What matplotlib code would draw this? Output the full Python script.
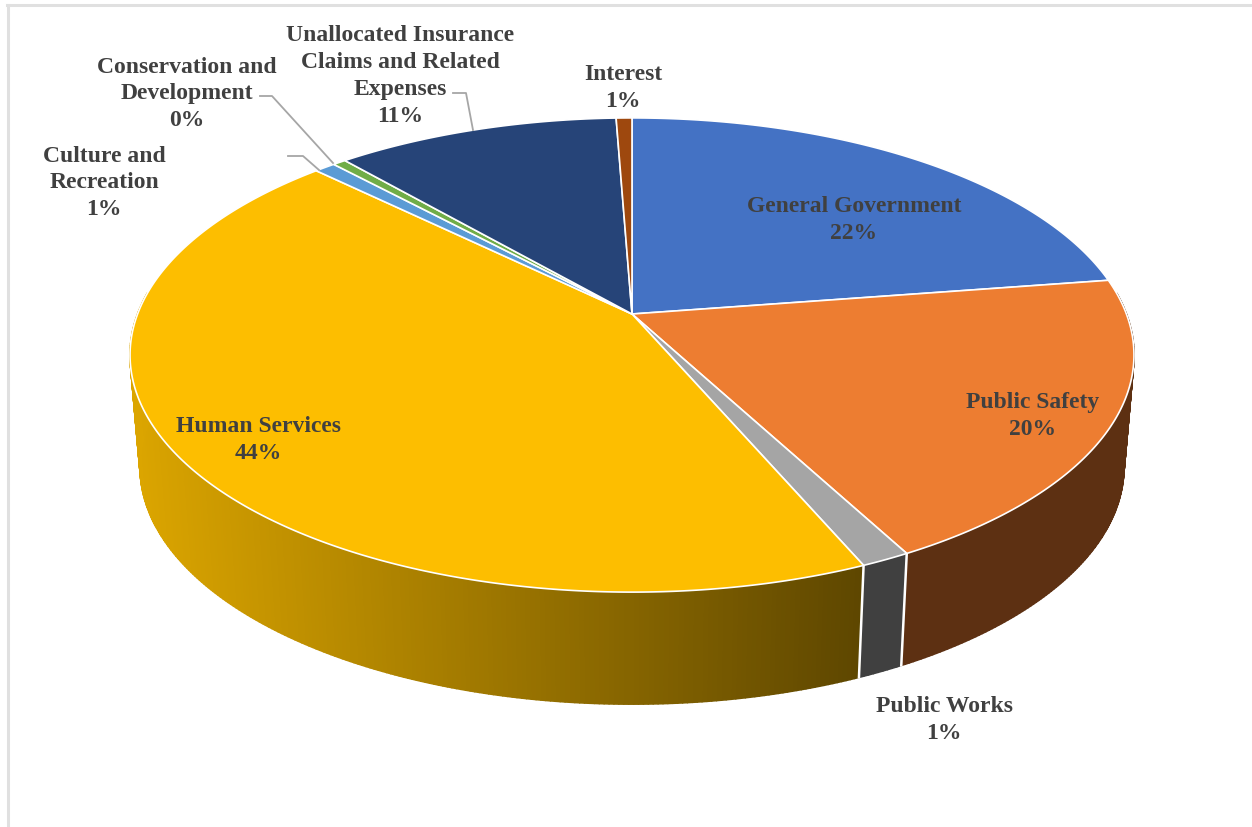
#!/usr/bin/env python3
import numpy as np
import matplotlib
matplotlib.use('Agg')
import matplotlib.pyplot as plt
from matplotlib.collections import PolyCollection
from matplotlib.colors import to_rgb

#values, clockwise from 12 o'clock
categories = ['General Government', 'Public Safety', 'Public Works', 'Human Services',
              'Culture and\nRecreation', 'Conservation and\nDevelopment',
              'Unallocated Insurance\nClaims and Related\nExpenses', 'Interest']
shares = [22.6, 19.6, 1.36, 43.75, 0.8, 0.5, 10.8, 0.6]
pct_labels = ['22%', '20%', '1%', '44%', '1%', '0%', '11%', '1%']
top_colors = ['#4472c4', '#ed7d31', '#a5a5a5', '#fdbe00', '#5b9bd5', '#70ad47', '#264478', '#9e480e']
wall_colors = ['#2a4578', '#5d3012', '#404040', None, '#375e82', '#44692b', '#172a49', '#602c09']

#pie geometry in pixels, perspective squeezes the back of the disc
cx, cy = 632, 314
k = 0.173
A, B = 230, 494.4
depth = 112
bottom_shrink = 0.98

def project(theta, drop=0.0, shrink=1.0):
    u, v = np.cos(theta), np.sin(theta)
    return cx + shrink*B*u/(1 + k*v), cy + drop - A*v/(1 + k*v)

def yellow_shade(x):
    #wall gets darker going right
    f = np.interp(x, [130, 860], [0.86, 0.37])
    r, g, b = to_rgb('#ffc000')
    return (r*f, g*f, b*f)

fig = plt.figure(figsize=(12.52, 8.27), dpi=100)
ax = fig.add_axes([0, 0, 1, 1])
ax.set_xlim(0, 1252)
ax.set_ylim(827, 0)
ax.axis('off')

#grey frame of the screenshot
ax.plot([8, 8], [5, 827], color='#e0e0e0', lw=2.2)
ax.plot([7, 1252], [5, 5], color='#e0e0e0', lw=2.2)

fracs = np.array(shares)/sum(shares)
edges = np.pi/2 - 2*np.pi*np.concatenate([[0], np.cumsum(fracs)])

#side wall first, thin strips because the band folds over itself at the sides
for i in range(len(shares)):
    n = max(3, int(abs(edges[i] - edges[i+1])*120))
    t = np.linspace(edges[i], edges[i+1], n)
    t = t[np.sin(t) < 0.1]
    if len(t) < 2:
        continue
    xt, yt = project(t)
    xb, yb = project(t, depth, bottom_shrink)
    quads, cols = [], []
    for j in range(0, len(t) - 1):
        quads.append([(xt[j], yt[j]), (xt[j+1], yt[j+1]), (xb[j+1], yb[j+1]), (xb[j], yb[j])])
        if wall_colors[i] is None:
            cols.append(yellow_shade((xt[j] + xt[j+1])/2))
        else:
            cols.append(to_rgb(wall_colors[i]))
    ax.add_collection(PolyCollection(quads, facecolors=cols, edgecolors=cols,
                                     linewidths=1.2, zorder=2))

#white seams between the wall pieces at the front
for e in edges[2:4]:
    xa, ya = project(e)
    xb2, yb2 = project(e, depth, bottom_shrink)
    ax.plot([xa, xb2], [ya, yb2], color='white', lw=1.8, zorder=3)

#top face
for i in range(len(shares)):
    t = np.linspace(edges[i], edges[i+1], max(3, int(abs(edges[i] - edges[i+1])*120)))
    xs, ys = project(t)
    ax.fill(np.r_[cx, xs], np.r_[cy, ys], facecolor=top_colors[i], edgecolor='white',
            lw=1.2, joinstyle='round', zorder=4)

#labels
label_xy = [(854, 220), (1033, 416), (944, 720), (258, 440),
            (104, 183), (187, 94), (400, 76), (623, 88)]
for name, pct, (x, y) in zip(categories, pct_labels, label_xy):
    ax.text(x, y, name + '\n' + pct, ha='center', va='center', ma='center',
            family='Liberation Serif', weight='bold', fontsize=17, color='#404040',
            linespacing=1.36, zorder=5)

#leader lines
leaders = [([288, 303, 319], [156, 156, 170]),
           ([260, 272, 333], [96, 96, 163]),
           ([453, 466, 473], [93, 93, 130])]
for lx, ly in leaders:
    ax.plot(lx, ly, color='#a6a6a6', lw=1.3, zorder=5)

fig.savefig('out.png', dpi=100)
